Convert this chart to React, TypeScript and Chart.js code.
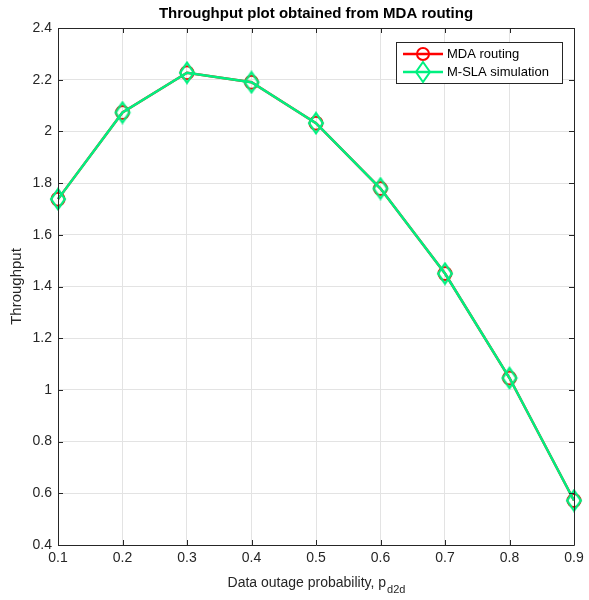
import React, { useEffect, useRef } from "react";
import { Chart, registerables } from "chart.js";

Chart.register(...registerables);

const xValues = [0.1, 0.2, 0.3, 0.4, 0.5, 0.6, 0.7, 0.8, 0.9];
const mdaRouting = [1.738, 2.073, 2.227, 2.19, 2.032, 1.779, 1.45, 1.046, 0.572];
const mslaSimulation = [1.738, 2.073, 2.227, 2.19, 2.032, 1.779, 1.45, 1.046, 0.572];
const seriesNames = ["MDA routing", "M-SLA simulation"];
const titleText = "Throughput plot obtained from MDA routing";
const xLabelMain = "Data outage probability, p";
const xLabelSub = "d2d";
const yLabel = "Throughput";

const FONT = '"Liberation Sans", Arial, Helvetica, sans-serif';
const AXIS = "#262626";
const RED = "#ff0000";
const GREEN = "rgb(0, 240, 128)";

const fmt = (v: number) => String(Number(v.toFixed(2)));

function makeDiamond(): HTMLCanvasElement {
  const c = document.createElement("canvas");
  const w = 18, h = 24;
  c.width = w;
  c.height = h;
  const g = c.getContext("2d")!;
  g.strokeStyle = GREEN;
  g.lineWidth = 2.2;
  g.beginPath();
  g.moveTo(w / 2, 2);
  g.lineTo(w - 2, h / 2);
  g.lineTo(w / 2, h - 2);
  g.lineTo(2, h / 2);
  g.closePath();
  g.stroke();
  return c;
}

function drawLegendDiamond(ctx: CanvasRenderingContext2D, mx: number, my: number) {
  ctx.beginPath();
  ctx.moveTo(mx, my - 10);
  ctx.lineTo(mx + 7, my);
  ctx.lineTo(mx, my + 10);
  ctx.lineTo(mx - 7, my);
  ctx.closePath();
  ctx.stroke();
}

const decorPlugin = {
  id: "decor",
  afterDraw(chart: any) {
    const { ctx, chartArea } = chart;
    const { left, right, top, bottom } = chartArea;
    const xs = chart.scales.x;
    const ys = chart.scales.y;
    ctx.save();
    ctx.strokeStyle = AXIS;
    ctx.lineWidth = 1;
    ctx.beginPath();
    ctx.rect(Math.round(left) + 0.5, Math.round(top) + 0.5, Math.round(right - left), Math.round(bottom - top));
    ctx.stroke();
    const tl = 5;
    ctx.beginPath();
    xs.ticks.forEach((t: any) => {
      const px = Math.round(xs.getPixelForValue(t.value)) + 0.5;
      ctx.moveTo(px, bottom);
      ctx.lineTo(px, bottom - tl);
      ctx.moveTo(px, top);
      ctx.lineTo(px, top + tl);
    });
    ys.ticks.forEach((t: any) => {
      const py = Math.round(ys.getPixelForValue(t.value)) + 0.5;
      ctx.moveTo(left, py);
      ctx.lineTo(left + tl, py);
      ctx.moveTo(right, py);
      ctx.lineTo(right - tl, py);
    });
    ctx.stroke();

    const cx = (left + right) / 2;
    ctx.fillStyle = "#000";
    ctx.font = `bold 15px ${FONT}`;
    ctx.textAlign = "center";
    ctx.textBaseline = "middle";
    ctx.fillText(titleText, cx, 14);

    ctx.fillStyle = AXIS;
    ctx.font = `14px ${FONT}`;
    const mainW = ctx.measureText(xLabelMain).width;
    ctx.font = `11px ${FONT}`;
    const subW = ctx.measureText(xLabelSub).width;
    const startX = cx - (mainW + subW) / 2;
    ctx.textAlign = "left";
    ctx.font = `14px ${FONT}`;
    ctx.fillText(xLabelMain, startX, 583);
    ctx.font = `11px ${FONT}`;
    ctx.fillText(xLabelSub, startX + mainW + 1, 590);

    ctx.save();
    ctx.translate(17, (top + bottom) / 2);
    ctx.rotate(-Math.PI / 2);
    ctx.textAlign = "center";
    ctx.font = `15px ${FONT}`;
    ctx.fillText(yLabel, 0, 0);
    ctx.restore();

    const lx = 396, ly = 42, lw = 166, lh = 41;
    ctx.fillStyle = "#fff";
    ctx.fillRect(lx, ly, lw, lh);
    ctx.strokeStyle = AXIS;
    ctx.lineWidth = 1;
    ctx.strokeRect(lx + 0.5, ly + 0.5, lw, lh);
    const rows = [ly + 12, ly + 30];
    const cols = [RED, GREEN];
    rows.forEach((ry, i) => {
      ctx.strokeStyle = cols[i];
      ctx.lineWidth = 2.5;
      ctx.beginPath();
      ctx.moveTo(lx + 7, ry);
      ctx.lineTo(lx + 47, ry);
      ctx.stroke();
      const mx = lx + 27;
      ctx.lineWidth = 2;
      if (i === 0) {
        ctx.beginPath();
        ctx.arc(mx, ry, 6, 0, Math.PI * 2);
        ctx.stroke();
      } else {
        drawLegendDiamond(ctx, mx, ry);
      }
      ctx.fillStyle = "#000";
      ctx.font = `13px ${FONT}`;
      ctx.textAlign = "left";
      ctx.textBaseline = "middle";
      ctx.fillText(seriesNames[i], lx + 51, ry);
    });
    ctx.restore();
  },
};

export default function App() {
  const ref = useRef<HTMLCanvasElement>(null);
  useEffect(() => {
    if (!ref.current) return;
    const diamond = makeDiamond();
    const chart = new Chart(ref.current, {
      type: "line",
      data: {
        datasets: [
          {
            label: seriesNames[0],
            data: xValues.map((x, i) => ({ x, y: mdaRouting[i] })),
            borderColor: RED,
            borderWidth: 2.5,
            pointStyle: "circle",
            pointRadius: 6.5,
            pointBorderWidth: 2,
            pointBorderColor: RED,
            pointBackgroundColor: "rgba(0,0,0,0)",
            tension: 0,
            clip: false,
            order: 2,
          },
          {
            label: seriesNames[1],
            data: xValues.map((x, i) => ({ x, y: mslaSimulation[i] })),
            borderColor: GREEN,
            borderWidth: 2.5,
            pointStyle: diamond as any,
            pointRadius: 10,
            pointBorderWidth: 2,
            pointBorderColor: GREEN,
            pointBackgroundColor: "rgba(0,0,0,0)",
            tension: 0,
            clip: false,
            order: 1,
          },
        ],
      },
      options: {
        responsive: false,
        animation: false,
        layout: { padding: { left: 0, top: 28, right: 15, bottom: 0 } },
        plugins: { legend: { display: false }, title: { display: false }, tooltip: { enabled: false } },
        scales: {
          x: {
            type: "linear",
            min: 0.1,
            max: 0.9,
            ticks: {
              stepSize: 0.1,
              color: AXIS,
              font: { family: FONT, size: 14 },
              padding: 5,
              maxRotation: 0,
              callback: (v: any) => fmt(Number(v)),
            },
            grid: { color: "#e3e3e3", lineWidth: 1, drawTicks: false },
            border: { display: false },
            afterFit: (s: any) => { s.height = 55; },
          },
          y: {
            type: "linear",
            min: 0.4,
            max: 2.4,
            ticks: {
              stepSize: 0.2,
              color: AXIS,
              font: { family: FONT, size: 14 },
              padding: 6,
              callback: (v: any) => fmt(Number(v)),
            },
            grid: { color: "#e3e3e3", lineWidth: 1, drawTicks: false },
            border: { display: false },
            afterFit: (s: any) => { s.width = 58; },
          },
        },
      },
      plugins: [decorPlugin],
    });
    return () => chart.destroy();
  }, []);
  return (
    <div style={{ position: "absolute", left: 0, top: 0, width: 589, height: 600, background: "#fff" }}>
      <canvas ref={ref} width={589} height={600} style={{ width: 589, height: 600, display: "block" }} />
    </div>
  );
}
